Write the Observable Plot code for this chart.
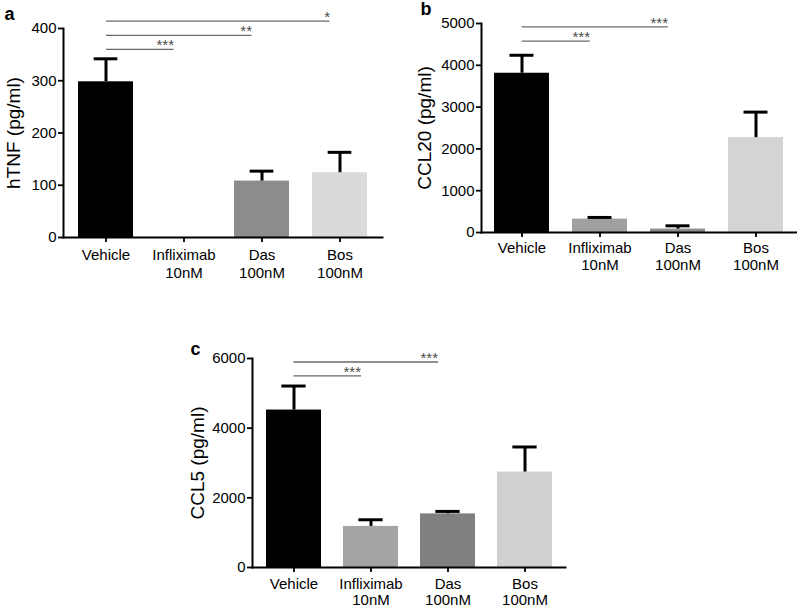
<!DOCTYPE html>
<html><head><meta charset="utf-8">
<script src="https://cdn.jsdelivr.net/npm/d3@7"></script>
<script src="https://cdn.jsdelivr.net/npm/@observablehq/plot@0.6"></script>
<style>
body{margin:0;background:#fff;}
#root{position:relative;width:797px;height:608px;font-family:"Liberation Sans",Arial,sans-serif;}
#root > svg{position:absolute;}
</style></head><body><div id="root"></div>
<script>
// ---- data ----
const categories = ["Vehicle", "Infliximab 10nM", "Das 100nM", "Bos 100nM"];
const tickLabels = ["Vehicle", "Infliximab\n10nM", "Das\n100nM", "Bos\n100nM"];

const hTNF = [298, 0, 108, 124];
const hTNFerr = [342, null, 127, 163];
const hTNFsigTo = ["Infliximab 10nM", "Das 100nM", "Bos 100nM"];
const hTNFsigY = [360, 387, 414];
const hTNFsigLabel = ["***", "**", "*"];

const ccl20 = [3810, 320, 82, 2270];
const ccl20err = [4240, 360, 160, 2880];
const ccl20sigTo = ["Infliximab 10nM", "Das 100nM"];
const ccl20sigY = [4580, 4920];
const ccl20sigLabel = ["***", "***"];

const ccl5 = [4520, 1180, 1540, 2740];
const ccl5err = [5210, 1370, 1610, 3460];
const ccl5sigTo = ["Infliximab 10nM", "Das 100nM"];
const ccl5sigY = [5500, 5900];
const ccl5sigLabel = ["***", "***"];

// ---- styles ----
const FONT = '"Liberation Sans", Arial, sans-serif';
const PI = 0.29, PO = 0.17;

function panel(o) {
  const rows = categories.map((c, i) => ({cat: c, value: o.values[i], err: o.errs[i]}));
  const errRows = rows.filter(d => d.err != null && d.err > d.value);
  const sig = o.sigTo.map((t, i) => ({from: categories[0], to: t, y: o.sigY[i], label: o.sigLabel[i]}));
  const bw = d3.scaleBand().domain(categories)
    .range([o.marginLeft, o.width - o.marginRight]).paddingInner(PI).paddingOuter(PO).bandwidth();
  const svg = Plot.plot({
    width: o.width, height: o.height,
    marginLeft: o.marginLeft, marginRight: o.marginRight, marginTop: o.marginTop, marginBottom: o.marginBottom,
    style: {fontFamily: FONT, fontSize: "15px", color: "#000", background: "transparent", overflow: "visible"},
    x: {domain: categories, paddingInner: PI, paddingOuter: PO, label: null},
    y: {domain: o.yDomain, label: null},
    color: {domain: categories, range: o.colors},
    marks: [
      Plot.barY(rows, {x: "cat", y: "value", fill: "cat"}),
      Plot.ruleX(errRows, {x: "cat", y1: "value", y2: "err", stroke: "#000", strokeWidth: 3}),
      Plot.tickY(errRows, {x: "cat", y: "err", stroke: "#000", strokeWidth: 3, insetLeft: bw * 0.28, insetRight: bw * 0.28}),
      Plot.ruleY(sig, {x1: "from", x2: "to", y: "y", stroke: "#6a6a6a", strokeWidth: 1.3,
        insetLeft: bw / 2, insetRight: bw / 2 + 9.5}),
      Plot.text(sig, {x: "to", y: "y", text: "label", textAnchor: "end", lineAnchor: "bottom",
        dx: -10, dy: 1, fontSize: 15, fill: "#4a4a4a", letterSpacing: 1.5}),
      Plot.frame({anchor: "left", stroke: "#000", strokeWidth: 2}),
      Plot.frame({anchor: "bottom", stroke: "#000", strokeWidth: 2}),
      Plot.axisY({ticks: o.yTicks, tickSize: 5, tickPadding: 2, strokeWidth: 1.8, label: null, tickFormat: d => String(d)}),
      Plot.axisX({tickSize: 5, tickPadding: o.xPad, strokeWidth: 1.8, label: null, lineHeight: o.lineHeight,
        tickFormat: d => tickLabels[categories.indexOf(d)]}),
      Plot.text([o.yLabel], {frameAnchor: "left", rotate: -90, dx: -o.labelOffset, textAnchor: "middle",
        lineAnchor: "top", fontSize: 19, fill: "#000"}),
      Plot.text([o.tag], {frameAnchor: "top-left", dx: o.tagDx, dy: o.tagDy, lineAnchor: "top", textAnchor: "start",
        fontSize: 18, fontWeight: "bold", fill: "#000"})
    ]
  });
  svg.style.left = o.left + "px";
  svg.style.top = o.top + "px";
  return svg;
}

const root = document.getElementById("root");
root.append(panel({
  tag: "a", left: 0, top: 0, width: 390, height: 290,
  marginLeft: 63, marginRight: 8, marginTop: 28, marginBottom: 53,
  values: hTNF, errs: hTNFerr, sigTo: hTNFsigTo, sigY: hTNFsigY, sigLabel: hTNFsigLabel,
  yDomain: [0, 400], yTicks: [0, 100, 200, 300, 400], yLabel: "hTNF (pg/ml)",
  colors: ["#000000", "#9a9a9a", "#8c8c8c", "#dadada"], labelOffset: 57, tagDx: -59, tagDy: -21,
  xPad: 5, lineHeight: 1.2
}));
root.append(panel({
  tag: "b", left: 400, top: 0, width: 397, height: 290,
  marginLeft: 81, marginRight: 0, marginTop: 23, marginBottom: 58,
  values: ccl20, errs: ccl20err, sigTo: ccl20sigTo, sigY: ccl20sigY, sigLabel: ccl20sigLabel,
  yDomain: [0, 5000], yTicks: [0, 1000, 2000, 3000, 4000, 5000], yLabel: "CCL20 (pg/ml)",
  colors: ["#000000", "#a0a0a0", "#8e8e8e", "#d4d4d4"], labelOffset: 64, tagDx: -61, tagDy: -21,
  xPad: 4, lineHeight: 1.12
}));
root.append(panel({
  tag: "c", left: 190, top: 300, width: 375, height: 308,
  marginLeft: 62, marginRight: 0, marginTop: 58, marginBottom: 41,
  values: ccl5, errs: ccl5err, sigTo: ccl5sigTo, sigY: ccl5sigY, sigLabel: ccl5sigLabel,
  yDomain: [0, 6000], yTicks: [0, 2000, 4000, 6000], yLabel: "CCL5 (pg/ml)",
  colors: ["#000000", "#a4a4a4", "#808080", "#d0d0d0"], labelOffset: 62, tagDx: -62, tagDy: -16,
  xPad: 5, lineHeight: 1.06
}));
</script>
</body></html>
